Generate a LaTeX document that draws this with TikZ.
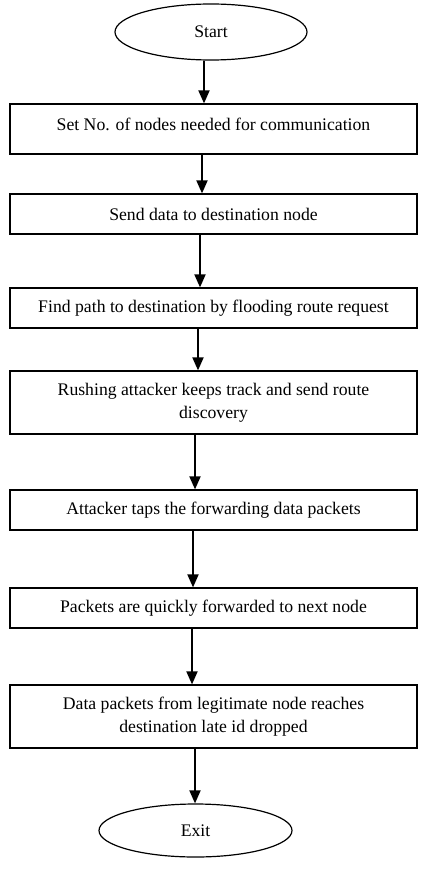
\documentclass[tikz,border=0pt]{standalone}
\usepackage{fontspec}
\setmainfont{Liberation Serif}
\usetikzlibrary{arrows.meta,shapes.geometric}
\begin{document}
\begin{tikzpicture}[x=1pt,y=-1pt,
  every node/.style={font=\fontsize{17.7}{23}\selectfont},
  procbox/.style={draw=black,line width=1.2pt,rectangle,minimum width=407pt,inner sep=0pt,align=center},
  term/.style={draw=black,line width=1.2pt,ellipse,inner sep=0pt},
  arr/.style={line width=1.8pt,-{Triangle[width=11pt,length=13pt]}}]
\useasboundingbox[fill=white] (0,0) rectangle (421,872);
\node[term,minimum width=192pt,minimum height=56pt] (start) at (211,32) {Start};
\node[procbox,minimum height=50pt] (b1) at (213.5,129) {\raisebox{5pt}[\height][\depth]{Set No. of nodes needed for communication}};
\node[procbox,minimum height=40pt] (b2) at (213.5,214) {Send data to destination node};
\node[procbox,minimum height=40pt] (b3) at (213.5,308) {Find path to destination by flooding route request};
\node[procbox,minimum height=63pt] (b4) at (213.5,402.5) {Rushing attacker keeps track and send route\\discovery};
\node[procbox,minimum height=40pt] (b5) at (213.5,510) {Attacker taps the forwarding data packets};
\node[procbox,minimum height=40pt] (b6) at (213.5,608) {Packets are quickly forwarded to next node};
\node[procbox,minimum height=63pt] (b7) at (213.5,716.5) {Data packets from legitimate node reaches\\destination late id dropped};
\node[term,minimum width=193pt,minimum height=53pt] (exit) at (195.5,830.5) {Exit};
\draw[arr] ([xshift=-7pt]start.south) -- ([xshift=-9.5pt]b1.north);
\draw[arr] ([xshift=-11.5pt]b1.south) -- ([xshift=-11.5pt]b2.north);
\draw[arr] ([xshift=-13.5pt]b2.south) -- ([xshift=-13.5pt]b3.north);
\draw[arr] ([xshift=-15.5pt]b3.south) -- ([xshift=-15.5pt]b4.north);
\draw[arr] ([xshift=-18.5pt]b4.south) -- ([xshift=-18.5pt]b5.north);
\draw[arr] ([xshift=-20.5pt]b5.south) -- ([xshift=-20.5pt]b6.north);
\draw[arr] ([xshift=-21.5pt]b6.south) -- ([xshift=-21.5pt]b7.north);
\draw[arr] ([xshift=-18.5pt]b7.south) -- ([xshift=-0.5pt]exit.north);
\end{tikzpicture}
\end{document}
